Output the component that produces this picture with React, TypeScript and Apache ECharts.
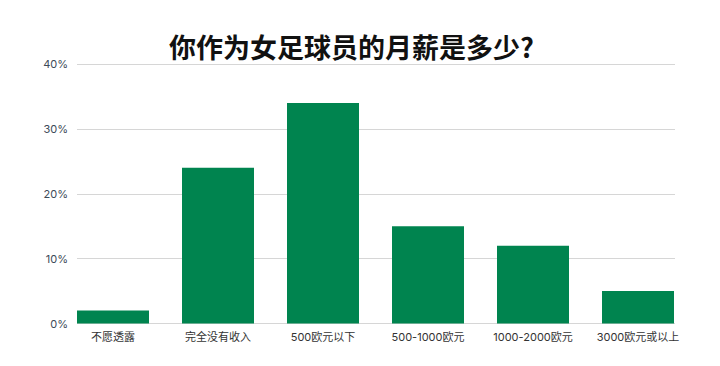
import React, { useEffect, useRef } from "react";
import * as echarts from "echarts";

const categories = ["不愿透露", "完全没有收入", "500欧元以下", "500-1000欧元", "1000-2000欧元", "3000欧元或以上"];
const values = [2, 24, 34, 15, 12, 5];
const titleText = "你作为女足球员的月薪是多少?";

export default function App() {
  const ref = useRef<HTMLDivElement>(null);
  useEffect(() => {
    const chart = echarts.init(ref.current!, null, { renderer: "svg" });
    chart.setOption({
      animation: false,
      backgroundColor: "#ffffff",
      title: {
        text: titleText,
        left: 164,
        top: 28,
        textStyle: { fontSize: 27, fontWeight: "bold", color: "#111", fontFamily: "Noto Sans CJK SC" },
      },
      grid: [
        { left: 77, right: 45, top: 64, bottom: 42.5 },
        { left: 60.5, right: 29.5, top: 64, bottom: 42.5 },
      ],
      xAxis: [
        { type: "value", gridIndex: 0, min: 0, max: 1, show: false },
        {
          type: "category",
          gridIndex: 1,
          data: categories,
          axisLine: { show: false },
          axisTick: { show: false },
          axisLabel: { color: "#333", fontSize: 11, margin: 8, fontFamily: "Inter, Noto Sans CJK SC", interval: 0 },
        },
      ],
      yAxis: [
        {
          type: "value",
          gridIndex: 0,
          min: 0,
          max: 40,
          interval: 10,
          axisLine: { show: false },
          axisTick: { show: false },
          axisLabel: { formatter: "{value}%", color: "#3d4a57", fontSize: 11, margin: 9, fontFamily: "Inter" },
          splitLine: { lineStyle: { color: "#d6d6d6", width: 1 } },
        },
        { type: "value", gridIndex: 1, min: 0, max: 40, interval: 10, show: false, splitLine: { show: false } },
      ],
      series: [
        {
          type: "bar",
          xAxisIndex: 1,
          yAxisIndex: 1,
          data: values,
          barWidth: 72,
          itemStyle: { color: "#00844f" },
        },
      ],
    });
    return () => chart.dispose();
  }, []);
  return <div ref={ref} style={{ width: 720, height: 366, margin: -8 }} />;
}
